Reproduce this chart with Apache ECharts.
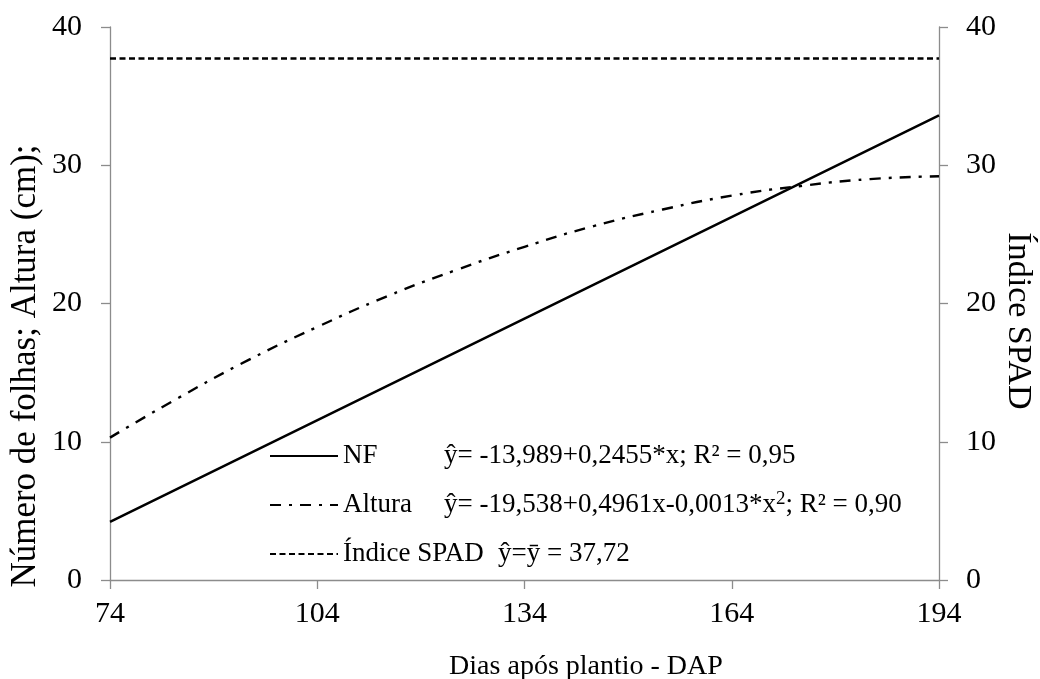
<!DOCTYPE html>
<html>
<head>
<meta charset="utf-8">
<script src="https://cdn.jsdelivr.net/npm/echarts@6/dist/echarts.min.js"></script>
<style>
  html, body { margin: 0; padding: 0; background: #fff; }
  #chart { width: 1040px; height: 679px; }
</style>
</head>
<body>
<div id="chart"></div>
<script>
// values
var alturaDays = [74, 84, 94, 104, 114, 124, 134, 144, 154, 164, 174, 184, 194];
var altura = [10.3, 13.2, 15.9, 18.3, 20.5, 22.4, 24.1, 25.6, 26.8, 27.8, 28.5, 29.0, 29.2];
var nfDays = [74, 134, 194];
var nf = [4.2, 18.9, 33.6];
var spadDays = [74, 194];
var spad = [37.72, 37.72];

var serif = '"Liberation Serif", "Times New Roman", serif';

function pairs(xs, ys) {
  return xs.map(function (x, i) { return [x, ys[i]]; });
}

window.addEventListener('load', function () {
  var myChart = echarts.init(document.getElementById('chart'));

  var axisGray = { lineStyle: { color: '#8c8c8c', width: 1.3 } };
  var tickGray = { show: true, inside: false, length: 9, lineStyle: { color: '#8c8c8c', width: 1.3 } };

  var option = {
    animation: false,
    backgroundColor: '#fff',
    grid: { left: 110, right: 101, top: 27, bottom: 99 },
    xAxis: {
      type: 'value',
      min: 74,
      max: 194,
      interval: 30,
      axisLine: axisGray,
      axisTick: tickGray,
      splitLine: { show: false },
      axisLabel: { color: '#000', fontFamily: serif, fontSize: 30, margin: 19 }
    },
    yAxis: [
      {
        type: 'value',
        min: 0,
        max: 40,
        interval: 10,
        position: 'left',
        axisLine: { show: true, lineStyle: axisGray.lineStyle },
        axisTick: tickGray,
        splitLine: { show: false },
        axisLabel: { color: '#000', fontFamily: serif, fontSize: 30, margin: 28 }
      },
      {
        type: 'value',
        min: 0,
        max: 40,
        interval: 10,
        position: 'right',
        axisLine: { show: true, lineStyle: axisGray.lineStyle },
        axisTick: tickGray,
        splitLine: { show: false },
        axisLabel: { color: '#000', fontFamily: serif, fontSize: 30, margin: 27 }
      }
    ],
    legend: {
      orient: 'vertical',
      left: 269,
      top: 441,
      padding: 0,
      itemWidth: 68,
      itemHeight: 14,
      itemGap: 19,
      itemStyle: { opacity: 0 },
      data: ['NF', 'Altura', 'Índice SPAD'],
      textStyle: {
        color: '#000',
        fontFamily: serif,
        fontSize: 27,
        lineHeight: 30,
        rich: {
          n: { width: 101, fontFamily: serif, fontSize: 27, color: '#000' },
          w: { width: 155, fontFamily: serif, fontSize: 27, color: '#000' },
          e: { fontFamily: serif, fontSize: 27, color: '#000' },
          s: { fontFamily: serif, fontSize: 19, color: '#000', verticalAlign: 'top', lineHeight: 22 }
        }
      },
      formatter: function (name) {
        if (name === 'NF') return '{n|NF}{e|ŷ= -13,989+0,2455*x; R² = 0,95}';
        if (name === 'Altura') return '{n|Altura}{e|ŷ= -19,538+0,4961x-0,0013*x}{s|2}{e|; R² = 0,90}';
        return '{w|Índice SPAD}{e|ŷ=ȳ = 37,72}';
      }
    },
    series: [
      {
        name: 'NF',
        type: 'line',
        yAxisIndex: 0,
        symbol: 'none',
        data: pairs(nfDays, nf),
        lineStyle: { color: '#000', width: 2.5, type: 'solid' },
        itemStyle: { color: '#000' }
      },
      {
        name: 'Altura',
        type: 'line',
        yAxisIndex: 0,
        symbol: 'none',
        smooth: true,
        data: pairs(alturaDays, altura),
        lineStyle: { color: '#000', width: 2.4, type: [11, 8, 3, 8] },
        itemStyle: { color: '#000' }
      },
      {
        name: 'Índice SPAD',
        type: 'line',
        yAxisIndex: 1,
        symbol: 'none',
        data: pairs(spadDays, spad),
        lineStyle: { color: '#000', width: 2.5, type: [6, 3.5] },
        itemStyle: { color: '#000' }
      }
    ],
    graphic: [
      {
        type: 'text',
        x: 586,
        y: 667,
        style: { text: 'Dias após plantio - DAP', fill: '#000', font: '28px ' + serif, align: 'center', verticalAlign: 'middle' }
      },
      {
        type: 'text',
        x: 26,
        y: 366,
        rotation: Math.PI / 2,
        style: { text: 'Número de folhas; Altura (cm);', fill: '#000', font: '35px ' + serif, align: 'center', verticalAlign: 'middle' }
      },
      {
        type: 'text',
        x: 1018,
        y: 321,
        rotation: -Math.PI / 2,
        style: { text: 'Índice SPAD', fill: '#000', font: '34px ' + serif, align: 'center', verticalAlign: 'middle' }
      }
    ]
  };

  myChart.setOption(option);
});
</script>
</body>
</html>
